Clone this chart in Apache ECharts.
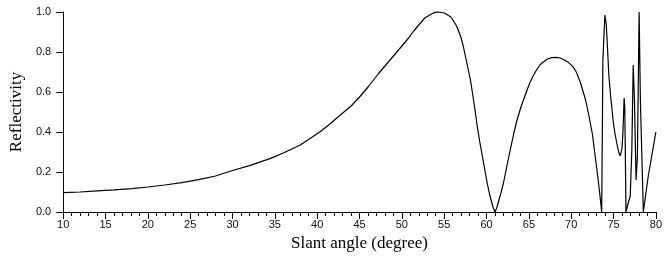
<!DOCTYPE html>
<html>
<head>
<meta charset="utf-8">
<script src="https://cdn.jsdelivr.net/npm/echarts@6/dist/echarts.min.js"></script>
<style>
  html, body { margin: 0; padding: 0; background: #fff; }
  #chart { width: 665px; height: 257px; }
</style>
</head>
<body>
<div id="chart"></div>
<script>
// slant angle (degree) and reflectivity
const angles = [
  10, 12, 14, 16, 18.15, 20, 22, 24, 26, 28, 29.8, 32, 34.5, 36, 38, 40.3, 41.5, 42.6, 44,
  45, 46.1, 47.2, 48.4, 49.6, 50.8, 51.4, 52, 52.7, 53.5, 53.9, 54.3, 55, 55.8, 56.4, 56.7,
  57, 57.3, 57.6, 58.1, 58.5, 58.9, 59.2, 59.5, 59.8, 60.1, 60.35, 60.6, 60.8, 61, 61.2,
  61.4, 61.7, 62, 62.4, 62.8, 63.2, 63.6, 64.1, 64.7, 65.1, 65.5, 65.9, 66.3, 66.7, 67.2,
  67.7, 68.2, 68.7, 69.2, 69.7, 70.2, 70.6, 71.1, 71.7, 72.1, 72.5, 72.8, 73.1, 73.35, 73.6,
  73.74, 73.98, 74.14, 74.45, 74.7, 75.0, 75.2, 75.4, 75.6, 75.8, 76.0, 76.1,
  76.25, 76.33, 76.47, 76.7, 76.97, 77.16, 77.32, 77.47, 77.66, 77.82, 78.02, 78.17,
  78.52, 79.1, 80
]
const reflectivity = [
  0.097, 0.100, 0.106, 0.111, 0.117, 0.125, 0.135, 0.147, 0.162, 0.18, 0.205, 0.232, 0.268, 0.295, 0.335, 0.40, 0.44, 0.48, 0.53,
  0.575, 0.63, 0.69, 0.75, 0.81, 0.87, 0.905, 0.935, 0.97, 0.99, 0.998, 1.0, 0.995, 0.975, 0.935, 0.905,
  0.87, 0.82, 0.76, 0.66, 0.55, 0.43, 0.35, 0.28, 0.21, 0.14, 0.09, 0.05, 0.02, 0.0, 0.02,
  0.05, 0.095, 0.145, 0.23, 0.31, 0.39, 0.46, 0.53, 0.60, 0.645, 0.68, 0.71, 0.735, 0.75, 0.765,
  0.772, 0.773, 0.77, 0.76, 0.747, 0.727, 0.70, 0.645, 0.56, 0.48, 0.39, 0.29, 0.19, 0.10, 0.0,
  0.76, 0.985, 0.94, 0.68, 0.56, 0.44, 0.385, 0.34, 0.30, 0.28, 0.32, 0.39,
  0.57, 0.52, 0.0, 0.04, 0.08, 0.31, 0.735, 0.56, 0.16, 0.28, 1.0, 0.56,
  0.0, 0.18, 0.40
]

let myChart = echarts.init(document.getElementById('chart'))
myChart.setOption({
  animation: false,
  backgroundColor: '#fff',
  grid: { left: 60, right: 4, top: 12, bottom: 45 },
  xAxis: {
    type: 'value',
    min: 10,
    max: 80,
    interval: 5,
    name: 'Slant angle (degree)',
    nameLocation: 'middle',
    nameGap: 22,
    nameTextStyle: { fontFamily: 'Liberation Serif', fontSize: 17, color: '#000' },
    axisLine: { lineStyle: { color: '#000', width: 1 } },
    axisTick: { inside: false, length: 7, lineStyle: { color: '#000' } },
    minorTick: { show: true, splitNumber: 5, length: 4, lineStyle: { color: '#000' } },
    axisLabel: { margin: 7, fontFamily: 'Liberation Sans', fontSize: 11, color: '#111' },
    splitLine: { show: false }
  },
  yAxis: {
    type: 'value',
    min: 0,
    max: 1,
    interval: 0.2,
    name: 'Reflectivity',
    nameLocation: 'middle',
    nameGap: 35,
    nameTextStyle: { fontFamily: 'Liberation Serif', fontSize: 17, color: '#000' },
    axisLine: { show: true, lineStyle: { color: '#000', width: 1 } },
    axisTick: { show: true, length: 7, lineStyle: { color: '#000' } },
    axisLabel: {
      margin: 12,
      fontFamily: 'Liberation Sans',
      fontSize: 11,
      color: '#111',
      formatter: v => v.toFixed(1)
    },
    splitLine: { show: false }
  },
  series: [
    {
      type: 'line',
      data: angles.map((a, i) => [a, reflectivity[i]]),
      showSymbol: false,
      smooth: false,
      clip: false,
      lineStyle: { color: '#000', width: 1.2 }
    }
  ]
})
</script>
</body>
</html>
